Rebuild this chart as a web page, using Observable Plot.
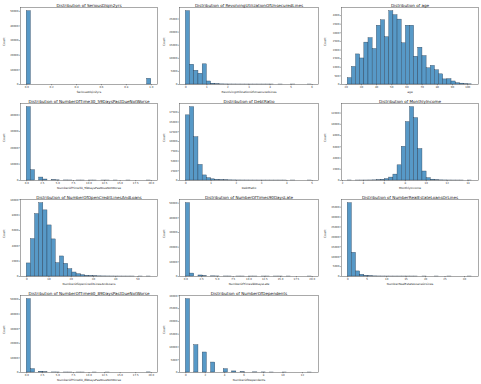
<!DOCTYPE html>
<html><head><meta charset="utf-8">
<script src="https://cdn.jsdelivr.net/npm/d3@7"></script>
<script src="https://cdn.jsdelivr.net/npm/@observablehq/plot@0.6"></script>
<style>
body{margin:0;background:#fff;}
#chart{position:relative;width:481px;height:384px;overflow:hidden;background:#fff;}
#chart svg{position:absolute;}
</style></head><body><div id="chart"></div>
<script>
// Variable names (one histogram each, 30 bins)
const variables = [
  "SeriousDlqin2yrs", "RevolvingUtilizationOfUnsecuredLines", "age",
  "NumberOfTime30_59DaysPastDueNotWorse", "DebtRatio", "MonthlyIncome",
  "NumberOfOpenCreditLinesAndLoans", "NumberOfTimes90DaysLate", "NumberRealEstateLoansOrLines",
  "NumberOfTime60_89DaysPastDueNotWorse", "NumberOfDependents"
];
// data min / max of each variable (histogram range)
const binLow  = [0, 0, 21, 0, 0, 2.5, 0, 0, 0, 0, 0];
const binHigh = [1, 6, 103, 20, 5, 14.4, 56, 20, 32, 20, 13];

// bin counts
const countsSerious = [50100,0,0,0,0,0,0,0,0,0,0,0,0,0,0,0,0,0,0,0,0,0,0,0,0,0,0,0,0,3900];
const countsRevolving = [28000,7550,5250,4100,7700,1150,300,120,50,25,15,10,6,4,3,2,2,1,1,1,1,0,1,0,0,1,0,0,0,1];
const countsAge = [370,1020,1745,1510,2430,2690,2060,3410,3725,2745,4255,4020,3765,2390,3410,3410,1610,2135,1650,940,1080,825,590,295,310,175,75,50,15,10];
const counts3059 = [44800,6300,0,1800,600,0,230,100,0,40,20,0,8,5,0,3,2,0,1,1,0,1,0,0,1,0,0,0,0,2];
const countsDebt = [16700,18800,11100,4000,1300,600,300,170,100,60,40,25,15,10,8,5,4,3,2,2,1,1,1,1,0,1,0,0,0,1];
const countsIncome = [5,0,1,2,5,10,25,60,120,250,520,1050,2700,6000,10400,13050,11100,5600,1600,420,150,60,25,12,6,3,2,1,0,1];
const countsOpenLines = [1700,4870,8130,9550,8610,6650,4830,1740,2610,1650,960,520,300,170,90,60,35,20,12,8,5,3,2,1,1,1,0,1,0,1];
const counts90 = [50000,2000,0,700,260,0,110,50,0,25,12,0,6,4,0,3,2,0,1,1,0,1,1,0,1,0,0,0,0,1];
const countsRealEstate = [37000,11950,2560,850,340,150,65,30,15,10,6,4,3,2,1,1,1,0,1,0,0,1,0,0,1,0,0,0,0,1];
const counts6089 = [50200,2300,0,500,150,0,50,30,0,15,8,0,4,3,0,0,2,0,0,1,0,0,0,0,0,0,0,0,0,60];
const countsDependents = [28700,0,10700,0,7830,0,3900,0,0,1300,0,420,0,150,0,0,60,0,30,0,6,0,0,3,0,0,0,0,0,1];

// tick values
const xTicks = [
  [0,0.2,0.4,0.6,0.8,1.0], [0,1,2,3,4,5,6], [20,30,40,50,60,70,80,90,100],
  [0,2.5,5,7.5,10,12.5,15,17.5,20], [0,1,2,3,4,5], [2,4,6,8,10,12,14],
  [0,10,20,30,40,50], [0,2.5,5,7.5,10,12.5,15,17.5,20], [0,5,10,15,20,25,30],
  [0,2.5,5,7.5,10,12.5,15,17.5,20], [0,2,4,6,8,10,12]
];
const xDecimal = [true,false,false,true,false,false,false,true,false,true,false];
const yTicks = [
  [0,10000,20000,30000,40000,50000], [0,5000,10000,15000,20000,25000],
  [0,500,1000,1500,2000,2500,3000,3500,4000],
  [0,10000,20000,30000,40000], [0,2500,5000,7500,10000,12500,15000,17500],
  [0,2000,4000,6000,8000,10000,12000],
  [0,2000,4000,6000,8000,10000], [0,10000,20000,30000,40000,50000],
  [0,5000,10000,15000,20000,25000,30000,35000],
  [0,10000,20000,30000,40000,50000], [0,5000,10000,15000,20000,25000,30000]
];

const panelCounts = [countsSerious, countsRevolving, countsAge, counts3059, countsDebt, countsIncome,
  countsOpenLines, counts90, countsRealEstate, counts6089, countsDependents];

const chart = document.getElementById("chart");
const marginLefts = [20, 19, 21], marginRights = [3, 2, 3], countX = [3.5, 3.5, 5];

variables.forEach((name, i) => {
  const lo = binLow[i], hi = binHigh[i], c = panelCounts[i];
  const w = (hi - lo) / c.length;
  const bins = c.map((n, k) => ({x1: lo + k * w, x2: lo + (k + 1) * w, y1: 0, n})).filter(d => d.n > 0);
  const pad = 0.05 * (hi - lo);
  const ymax = d3.max(c) * 1.05;
  const col = i % 3, row = Math.floor(i / 3);
  const ml = marginLefts[col];
  const xf = xDecimal[i] ? d3.format(".1f") : (d => String(d));
  const svg = Plot.plot({
    width: col === 2 ? 161 : 160, height: 96,
    marginLeft: ml, marginRight: marginRights[col], marginTop: 7, marginBottom: 12,
    style: {fontFamily: "DejaVu Sans, sans-serif", fontSize: "2.6px", color: "#333", background: "white", overflow: "visible"},
    x: {domain: [lo - pad, hi + pad]},
    y: {domain: [0, ymax]},
    marks: [
      Plot.rect(bins, {x1: "x1", x2: "x2", y1: "y1", y2: "n", fill: "#5799c7", stroke: "#26384c", strokeWidth: 0.35}),
      Plot.frame({stroke: "#555", strokeWidth: 0.5}),
      Plot.axisX({ticks: xTicks[i], tickFormat: xf, tickSize: 1.3, tickPadding: 0.8, label: null, strokeWidth: 0.4}),
      Plot.axisY({ticks: yTicks[i], tickFormat: d => String(d), tickSize: 1.3, tickPadding: 0.8, label: null, strokeWidth: 0.4}),
      Plot.text(["Distribution of " + name], {text: d => d, frameAnchor: "top", dy: -3.5, fontSize: 4.1, fill: "#111"}),
      Plot.text([name], {text: d => d, frameAnchor: "bottom", dy: 8, fontSize: 2.9, fill: "#222"}),
      Plot.text(["Count"], {text: d => d, frameAnchor: "left", dx: -(ml - countX[col]), rotate: -90, fontSize: 2.9, fill: "#222"})
    ]
  });
  svg.style.left = (col * 160) + "px";
  svg.style.top = (row * 96) + "px";
  chart.appendChild(svg);
});
</script></body></html>
